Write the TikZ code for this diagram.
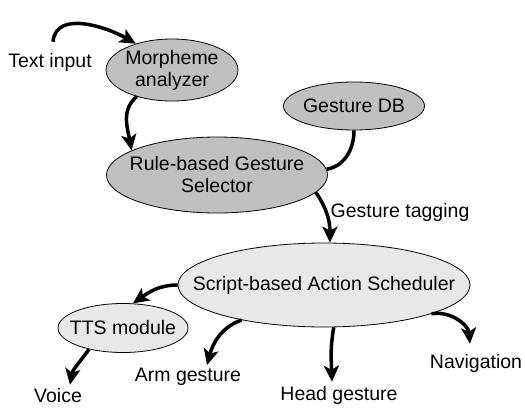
\documentclass[tikz,border=0pt]{standalone}
\usepackage{fontspec}
\setmainfont{Liberation Sans}
\usetikzlibrary{shapes.geometric,arrows.meta}
\definecolor{dgray}{HTML}{C0C0C0}
\definecolor{lgray}{HTML}{E8E8E8}
\newcommand{\zw}[1]{\makebox[0pt]{#1}}
\begin{document}
\begin{tikzpicture}[x=1pt,y=-1pt,
  every node/.style={font=\fontsize{19.5}{22}\selectfont},
  proc/.style={ellipse,draw=black,line width=0.8pt,inner sep=0pt,align=center},
  lbl/.style={inner sep=1pt},
  conn/.style={line width=3.5pt,-{Stealth[length=16pt,width=15pt,inset=4pt]}},
  plain/.style={line width=3.5pt}]
\useasboundingbox (0,0) rectangle (525,410);
\node[proc,fill=dgray,minimum width=132pt,minimum height=62pt] (mor) at (172,70) {\zw{Morpheme}\\\zw{analyzer}};
\node[proc,fill=dgray,minimum width=141pt,minimum height=48pt] (db) at (354,106) {\zw{Gesture DB}};
\node[proc,fill=dgray,minimum width=221pt,minimum height=76pt] (rule) at (217,175) {\zw{Rule-based Gesture}\\\zw{Selector}};
\node[proc,fill=lgray,minimum width=292pt,minimum height=84pt] (sch) at (324,285) {\zw{Script-based Action Scheduler}};
\node[proc,fill=lgray,minimum width=130pt,minimum height=49pt] (tts) at (123,328) {\zw{TTS module}};
\node[lbl] (tin) at (50,62) {Text input};
\node[lbl] (tag) at (400,212) {Gesture tagging};
\node[lbl] (voice) at (58,396) {Voice};
\node[lbl] (arm) at (188,377) {Arm gesture};
\node[lbl] (head) at (339,395) {Head gesture};
\node[lbl] (nav) at (476,363) {Navigation};
\draw[conn] ([xshift=3pt,yshift=10pt]tin.north) to[out=85,in=150] (mor.144);
\draw[conn] (mor.217) to[out=220,in=100] (rule.164);
\draw[plain] (db.south) to[out=-90,in=10] (rule.3);
\draw[conn] (rule.-10) to[out=-55,in=90] (sch.82);
\draw[conn] (sch.west) to[out=180,in=35] (tts.68);
\draw[conn] (tts.212) to[out=235,in=80] ([xshift=12pt,yshift=3pt]voice.north);
\draw[conn] (sch.203) to[out=200,in=75] ([xshift=19pt,yshift=2pt]arm.north);
\draw[conn] (sch.-77) to[out=260,in=92] ([xshift=-7pt,yshift=3pt]head.north);
\draw[conn] (sch.-15) to[out=10,in=95] ([xshift=-6pt,yshift=9pt]nav.north);
\end{tikzpicture}
\end{document}
